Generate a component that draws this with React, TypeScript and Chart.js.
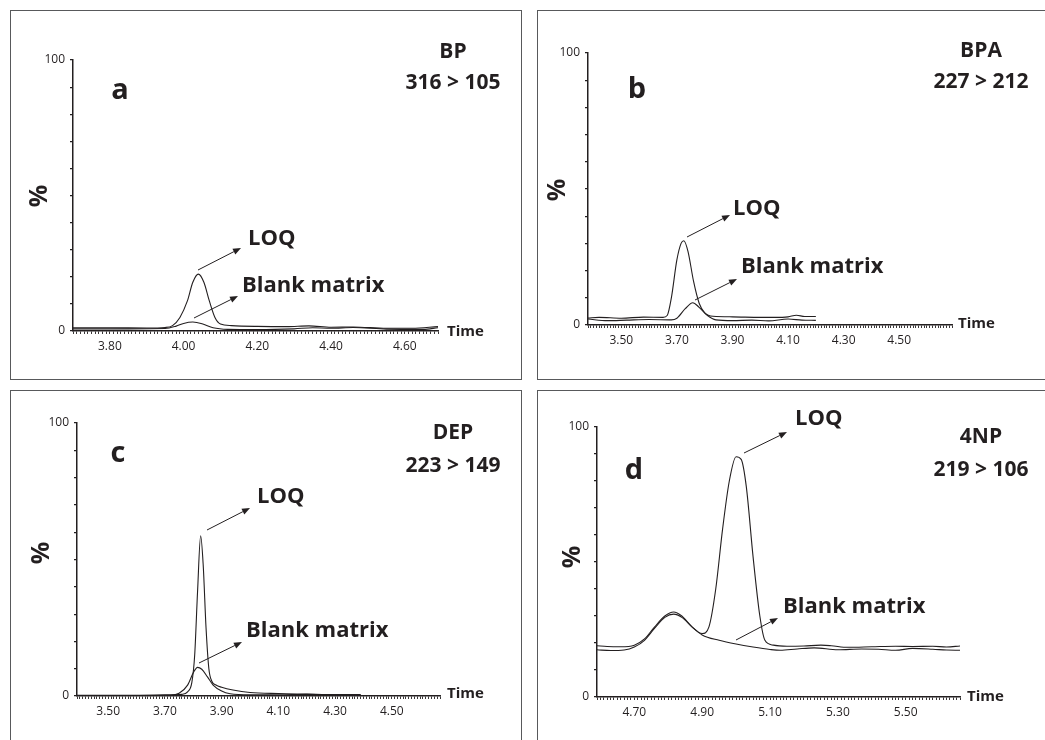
import React, { useEffect, useRef } from "react";
import { Chart, registerables } from "chart.js";

Chart.register(...registerables);

type Pt = [number, number];

// ---------- Data (time in min, relative intensity %) ----------
// Panel a: BP 316 > 105
const bpLoq: Pt[] = [
  [3.70, 1.2], [3.80, 1.2], [3.90, 1.1], [3.95, 1.3], [3.97, 2.0], [3.99, 5.0],
  [4.01, 11.0], [4.025, 18.0], [4.04, 21.0], [4.055, 18.0], [4.07, 11.0],
  [4.085, 5.0], [4.10, 2.6], [4.13, 2.0], [4.20, 1.7], [4.28, 1.6], [4.34, 1.9],
  [4.40, 1.4], [4.46, 1.5], [4.55, 1.0], [4.62, 1.0], [4.69, 1.6],
];
const bpBlank: Pt[] = [
  [3.70, 0.8], [3.85, 0.8], [3.95, 0.9], [3.98, 1.8], [4.00, 2.8], [4.025, 3.3],
  [4.05, 2.7], [4.08, 1.2], [4.12, 0.6], [4.20, 0.5], [4.30, 0.8], [4.35, 1.2],
  [4.40, 1.0], [4.46, 1.3], [4.55, 0.7], [4.65, 0.6], [4.69, 1.2],
];
const bpTicks = ["3.80", "4.00", "4.20", "4.40", "4.60"];

// Panel b: BPA 227 > 212
const bpaLoq: Pt[] = [
  [3.38, 2.6], [3.42, 2.8], [3.50, 2.5], [3.58, 2.9], [3.65, 2.8], [3.665, 3.5],
  [3.68, 10.0], [3.70, 24.0], [3.715, 30.0], [3.725, 31.0], [3.74, 27.0],
  [3.76, 16.0], [3.78, 8.0], [3.80, 4.5], [3.83, 3.2], [3.90, 3.0], [4.00, 2.8],
  [4.05, 2.8], [4.10, 3.0], [4.13, 3.6], [4.16, 3.1], [4.20, 3.1],
];
const bpaBlank: Pt[] = [
  [3.38, 2.2], [3.45, 1.6], [3.52, 1.8], [3.60, 2.0], [3.68, 1.9], [3.70, 2.5],
  [3.73, 6.0], [3.757, 8.2], [3.78, 6.5], [3.81, 3.5], [3.84, 1.9], [3.90, 1.6],
  [3.97, 1.8], [4.03, 1.5], [4.10, 2.2], [4.15, 1.8], [4.20, 1.7],
];
const bpaTicks = ["3.50", "3.70", "3.90", "4.10", "4.30", "4.50"];

// Panel c: DEP 223 > 149
const depLoq: Pt[] = [
  [3.39, 0.3], [3.50, 0.3], [3.60, 0.3], [3.70, 0.4], [3.76, 0.6], [3.78, 1.5],
  [3.795, 5.0], [3.805, 15.0], [3.815, 38.0], [3.826, 58.7], [3.835, 48.0],
  [3.845, 25.0], [3.855, 10.0], [3.865, 5.5], [3.88, 4.0], [3.90, 3.2],
  [3.94, 2.2], [4.00, 1.3], [4.10, 0.9], [4.20, 0.7], [4.30, 0.5], [4.39, 0.5],
];
const depBlank: Pt[] = [
  [3.39, 0.2], [3.60, 0.2], [3.72, 0.3], [3.75, 1.0], [3.78, 4.0], [3.80, 8.5],
  [3.815, 10.5], [3.83, 9.8], [3.85, 7.0], [3.87, 4.0], [3.90, 1.8], [3.93, 0.8],
  [4.00, 0.4], [4.10, 0.4], [4.20, 0.6], [4.30, 0.4], [4.39, 0.4],
];
const depTicks = ["3.50", "3.70", "3.90", "4.10", "4.30", "4.50"];

// Panel d: 4NP 219 > 106
const npLoq: Pt[] = [
  [4.59, 19.0], [4.62, 18.7], [4.66, 18.6], [4.70, 19.2], [4.73, 21.5], [4.76, 26.0],
  [4.79, 30.0], [4.816, 31.5], [4.84, 30.0], [4.87, 26.0], [4.90, 23.5],
  [4.92, 26.0], [4.94, 40.0], [4.96, 62.0], [4.98, 80.0], [5.00, 89.0],
  [5.015, 88.0], [5.03, 78.0], [5.05, 52.0], [5.07, 30.0], [5.085, 21.0],
  [5.11, 19.2], [5.15, 18.8], [5.20, 18.9], [5.25, 19.2], [5.28, 19.0],
  [5.33, 18.4], [5.40, 18.6], [5.47, 18.8], [5.52, 18.7], [5.58, 18.8],
  [5.62, 18.5], [5.66, 18.9],
];
const npBlank: Pt[] = [
  [4.59, 17.5], [4.63, 17.2], [4.67, 17.4], [4.70, 18.5], [4.73, 21.0], [4.76, 25.5],
  [4.79, 29.5], [4.816, 30.7], [4.84, 29.5], [4.87, 26.0], [4.90, 23.0],
  [4.95, 21.0], [5.00, 19.6], [5.05, 18.5], [5.10, 17.6], [5.13, 17.3],
  [5.18, 17.8], [5.23, 18.2], [5.30, 17.5], [5.37, 17.8], [5.42, 17.7],
  [5.47, 17.3], [5.52, 18.0], [5.58, 17.7], [5.62, 17.4], [5.66, 17.3],
];
const npTicks = ["4.70", "4.90", "5.10", "5.30", "5.50"];

const yTicks = ["0", "100"];
const seriesNames = ["LOQ", "Blank matrix"];

// ---------- Layout / style ----------
const W = 1045;
const H = 740;
const YW = 40;
const XH = 40;
const INK = "#231f20";
const FONT = "'Open Sans', 'Noto Sans', sans-serif";

type Txt = { t: string; x: number; y: number; size: number; align?: CanvasTextAlign; rot?: boolean };
type Panel = {
  loq: Pt[]; blank: Pt[]; ticks: string[];
  xMin: number; xMax: number;
  x0: number; x1: number; yTop: number; yBot: number;
  texts: Txt[]; arrows: number[][];
};

const panels: Panel[] = [
  {
    loq: bpLoq, blank: bpBlank, ticks: bpTicks, xMin: 3.70, xMax: 4.69,
    x0: 73, x1: 438, yTop: 60, yBot: 331,
    texts: [
      { t: "a", x: 120, y: 99, size: 29, align: "center" },
      { t: "BP", x: 453, y: 58, size: 21, align: "center" },
      { t: "316 > 105", x: 453, y: 89, size: 21, align: "center" },
      { t: seriesNames[0], x: 248, y: 245, size: 22 },
      { t: seriesNames[1], x: 242, y: 292, size: 22 },
      { t: "Time", x: 447, y: 336, size: 15 },
      { t: "%", x: 40, y: 196, size: 25, rot: true },
    ],
    arrows: [[198, 270, 241, 248], [194, 318, 238, 296]],
  },
  {
    loq: bpaLoq, blank: bpaBlank, ticks: bpaTicks, xMin: 3.38, xMax: 4.69,
    x0: 588, x1: 952, yTop: 53, yBot: 325,
    texts: [
      { t: "b", x: 637, y: 98, size: 29, align: "center" },
      { t: "BPA", x: 981, y: 57, size: 21, align: "center" },
      { t: "227 > 212", x: 981, y: 88, size: 21, align: "center" },
      { t: seriesNames[0], x: 733, y: 215, size: 22 },
      { t: seriesNames[1], x: 741, y: 273, size: 22 },
      { t: "Time", x: 958, y: 328, size: 15 },
      { t: "%", x: 558, y: 190, size: 25, rot: true },
    ],
    arrows: [[687, 237, 730, 215], [695, 300, 737, 279]],
  },
  {
    loq: depLoq, blank: depBlank, ticks: depTicks, xMin: 3.39, xMax: 4.67,
    x0: 77, x1: 440, yTop: 423, yBot: 696,
    texts: [
      { t: "c", x: 118, y: 462, size: 29, align: "center" },
      { t: "DEP", x: 453, y: 439, size: 21, align: "center" },
      { t: "223 > 149", x: 453, y: 472, size: 21, align: "center" },
      { t: seriesNames[0], x: 257, y: 503, size: 22 },
      { t: seriesNames[1], x: 246, y: 637, size: 22 },
      { t: "Time", x: 447, y: 698, size: 15 },
      { t: "%", x: 42, y: 553, size: 25, rot: true },
    ],
    arrows: [[207, 530, 250, 508], [199, 663, 242, 642]],
  },
  {
    loq: npLoq, blank: npBlank, ticks: npTicks, xMin: 4.59, xMax: 5.66,
    x0: 597, x1: 960, yTop: 427, yBot: 697,
    texts: [
      { t: "d", x: 634, y: 479, size: 29, align: "center" },
      { t: "4NP", x: 981, y: 443, size: 21, align: "center" },
      { t: "219 > 106", x: 981, y: 476, size: 21, align: "center" },
      { t: seriesNames[0], x: 795, y: 425, size: 22 },
      { t: seriesNames[1], x: 783, y: 613, size: 22 },
      { t: "Time", x: 967, y: 701, size: 15 },
      { t: "%", x: 573, y: 557, size: 25, rot: true },
    ],
    arrows: [[744, 453, 787, 432], [736, 640, 778, 618]],
  },
];

const boxes = [
  { left: 10, top: 10, width: 512, height: 370 },
  { left: 537, top: 10, width: 530, height: 370 },
  { left: 10, top: 390, width: 512, height: 370 },
  { left: 537, top: 390, width: 530, height: 370 },
];

function annotPlugin(p: Panel) {
  return {
    id: "annot",
    afterDraw(chart: any) {
      const ctx: CanvasRenderingContext2D = chart.ctx;
      ctx.save();
      ctx.fillStyle = INK;
      ctx.strokeStyle = INK;
      for (const tx of p.texts) {
        ctx.font = `bold ${tx.size}px ${FONT}`;
        if (tx.rot) {
          ctx.save();
          ctx.translate(tx.x, tx.y);
          ctx.rotate(-Math.PI / 2);
          ctx.textAlign = "center";
          ctx.textBaseline = "middle";
          ctx.fillText(tx.t, 0, 0);
          ctx.restore();
        } else {
          ctx.textAlign = tx.align || "left";
          ctx.textBaseline = "alphabetic";
          ctx.fillText(tx.t, tx.x, tx.y);
        }
      }
      ctx.lineWidth = 1;
      for (const [xa, ya, xb, yb] of p.arrows) {
        const ang = Math.atan2(yb - ya, xb - xa);
        const hl = 8, hw = 3.2;
        const bx = xb - hl * Math.cos(ang), by = yb - hl * Math.sin(ang);
        ctx.beginPath();
        ctx.moveTo(xa, ya);
        ctx.lineTo(bx, by);
        ctx.stroke();
        ctx.beginPath();
        ctx.moveTo(xb, yb);
        ctx.lineTo(bx + hw * Math.sin(ang), by - hw * Math.cos(ang));
        ctx.lineTo(bx - hw * Math.sin(ang), by + hw * Math.cos(ang));
        ctx.closePath();
        ctx.fill();
      }
      ctx.restore();
    },
  };
}

function makeChart(canvas: HTMLCanvasElement, p: Panel) {
  const ds = (pts: Pt[]) => ({
    data: pts.map(([x, y]) => ({ x, y })),
    borderColor: INK,
    borderWidth: 1.1,
    pointRadius: 0,
    fill: false,
    cubicInterpolationMode: "monotone" as const,
  });
  return new Chart(canvas, {
    type: "line",
    data: { datasets: [{ label: seriesNames[0], ...ds(p.loq) }, { label: seriesNames[1], ...ds(p.blank) }] },
    options: {
      responsive: false,
      animation: false,
      events: [],
      layout: {
        padding: { left: p.x0 - YW, right: W - p.x1, top: p.yTop, bottom: H - p.yBot - XH },
      },
      plugins: { legend: { display: false }, tooltip: { enabled: false }, title: { display: false } },
      scales: {
        x: {
          type: "linear",
          min: p.xMin,
          max: p.xMax,
          afterFit: (s: any) => { s.height = XH; },
          afterBuildTicks: (s: any) => {
            const lo = Math.round(p.xMin * 100), hi = Math.round(p.xMax * 100);
            const t = [];
            for (let i = lo; i <= hi; i++) t.push({ value: i / 100 });
            s.ticks = t;
          },
          ticks: {
            autoSkip: false,
            maxRotation: 0,
            minRotation: 0,
            padding: 5,
            color: INK,
            font: { family: FONT, size: 12 },
            callback: (v: any) => {
              const s = Number(v).toFixed(2);
              return p.ticks.includes(s) ? s : "";
            },
          },
          grid: { drawOnChartArea: false, drawTicks: true, tickLength: 3, color: INK, lineWidth: 0.9 },
          border: { display: true, color: INK, width: 1.5 },
        },
        y: {
          type: "linear",
          min: 0,
          max: 100,
          afterFit: (s: any) => { s.width = YW; },
          afterBuildTicks: (s: any) => {
            const t = [];
            for (let i = 0; i <= 10; i++) t.push({ value: i * 10 });
            s.ticks = t;
          },
          ticks: {
            autoSkip: false,
            padding: 5,
            color: INK,
            font: { family: FONT, size: 12 },
            callback: (v: any) => {
              const s = String(Math.round(Number(v)));
              return yTicks.includes(s) ? s : "";
            },
          },
          grid: { drawOnChartArea: false, drawTicks: true, tickLength: 3, color: INK, lineWidth: 1.2 },
          border: { display: true, color: INK, width: 1.5 },
        },
      },
    },
    plugins: [annotPlugin(p)],
  } as any);
}

function PanelCanvas({ p }: { p: Panel }) {
  const ref = useRef<HTMLCanvasElement>(null);
  useEffect(() => {
    if (!ref.current) return;
    const c = makeChart(ref.current, p);
    return () => c.destroy();
  }, [p]);
  return (
    <canvas
      ref={ref}
      width={W}
      height={H}
      style={{ position: "absolute", left: 0, top: 0, width: W, height: H }}
    />
  );
}

export default function App() {
  return (
    <div
      style={{
        position: "fixed", left: 0, top: 0, width: W, height: H,
        background: "#fff", overflow: "hidden",
      }}
    >
      {boxes.map((b, i) => (
        <div
          key={"b" + i}
          style={{
            position: "absolute", left: b.left, top: b.top, width: b.width, height: b.height,
            border: "1px solid #58595b", boxSizing: "border-box",
          }}
        />
      ))}
      {panels.map((p, i) => (
        <PanelCanvas key={i} p={p} />
      ))}
    </div>
  );
}
